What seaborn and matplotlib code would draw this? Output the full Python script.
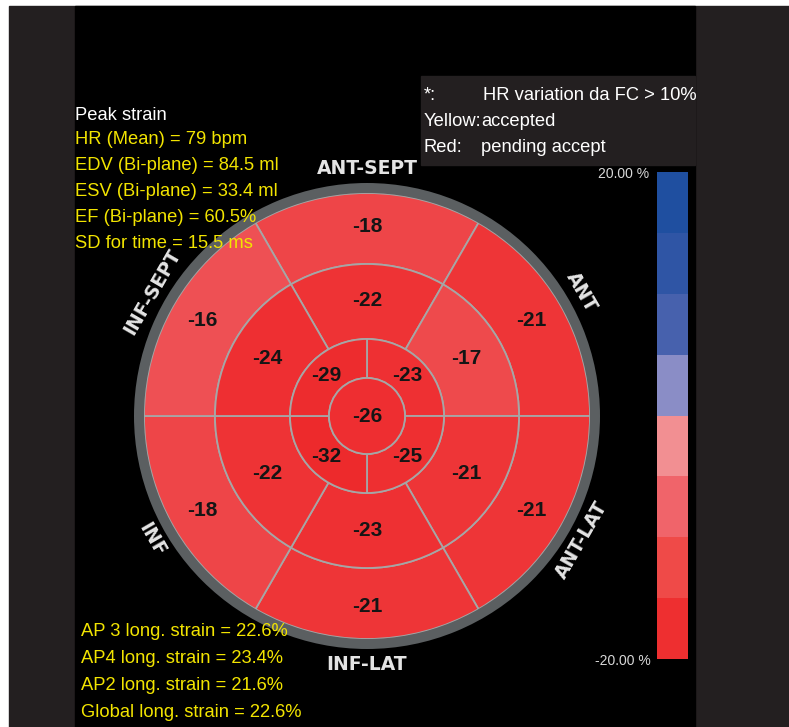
import numpy as np
import matplotlib
matplotlib.use("Agg")
import matplotlib.pyplot as plt
from matplotlib.patches import Wedge, Circle, Rectangle
from matplotlib.colors import ListedColormap, LinearSegmentedColormap
import seaborn as sns

# ---------------- data ----------------
basal_labels = ["ANT-SEPT", "ANT", "ANT-LAT", "INF-LAT", "INF", "INF-SEPT"]
basal_values = [-18, -21, -21, -21, -18, -16]
mid_values = [-22, -17, -21, -23, -22, -24]
apical_values = [-23, -25, -32, -29]     # upper-right, lower-right, lower-left, upper-left
apex_value = -26

header_title = "Peak strain"
header_lines = ["HR (Mean) = 79 bpm", "EDV (Bi-plane) = 84.5 ml",
                "ESV (Bi-plane) = 33.4 ml", "EF (Bi-plane) = 60.5%",
                "SD for time = 15.5 ms"]
footer_lines = ["AP 3 long. strain = 22.6%", "AP4 long. strain = 23.4%",
                "AP2 long. strain = 21.6%", "Global long. strain = 22.6%"]
legend_keys = ["*:", "Yellow:", "Red:"]
legend_texts = ["HR variation da FC > 10%", "accepted", "pending accept"]
scale_colors = ["#1f4fa0", "#2f55a5", "#4761ad", "#8a8dc6",
                "#f28f92", "#f0646a", "#ef4a48", "#ee2f30"]
scale_min, scale_max = -20, 20
scale_labels = ["20.00 %", "-20.00 %"]

# ---------------- styling ----------------
sns.set_theme(style="white")
plt.rcParams["font.family"] = ["Liberation Sans", "DejaVu Sans"]
NARROW = ["DejaVu Sans Condensed", "Liberation Sans"]

W, H = 789, 727
fig = plt.figure(figsize=(W / 100, H / 100), dpi=100, facecolor="white")
ax = fig.add_axes([0, 0, 1, 1])
ax.set_xlim(0, W)
ax.set_ylim(0, H)
ax.set_aspect("auto")
ax.axis("off")


def fy(y):
    return H - y


YELLOW = "#f2e400"
DARK = "#231f20"

# backgrounds
ax.add_patch(Rectangle((9, 0), W - 9, fy(6), color=DARK, zorder=0))
ax.add_patch(Rectangle((75, 0), 620, fy(6), color="black", zorder=1))
ax.add_patch(Rectangle((421, fy(165)), 274, 89, color=DARK, zorder=2))

# ---------------- bullseye ----------------
cx, cy = 367, fy(416)
r_apex, r_apical, r_mid, r_basal, r_ring = 38, 77, 152, 223, 233

vlo, vhi = -32, -16
seg_cmap = LinearSegmentedColormap.from_list(
    "seg", [(0.0, "#ed2a2c"), ((-23 - vlo) / (vhi - vlo), "#ee3033"),
            ((-21 - vlo) / (vhi - vlo), "#ee3537"), ((-18 - vlo) / (vhi - vlo), "#ee4548"),
            ((-17 - vlo) / (vhi - vlo), "#ee4a4c"), (1.0, "#ee5054")])


def seg_color(v):
    return seg_cmap(np.clip((v - vlo) / (vhi - vlo), 0, 1))


LINE = "#a6a6a6"
NUM = dict(fontsize=15, fontweight="bold", color="#151515", family=NARROW, zorder=6,
           ha="center", va="center")
six_centers = [90, 30, -30, -90, -150, 150]
four_centers = [45, -45, -135, 135]

for c, v in zip(six_centers, basal_values):
    ax.add_patch(Wedge((cx, cy), r_basal, c - 30, c + 30, width=r_basal - r_mid,
                       facecolor=seg_color(v), edgecolor=LINE, lw=1.3, zorder=3))
    a = np.deg2rad(c)
    ax.text(cx + 190 * np.cos(a), cy + 190 * np.sin(a), str(v), **NUM)

for c, v in zip(six_centers, mid_values):
    ax.add_patch(Wedge((cx, cy), r_mid, c - 30, c + 30, width=r_mid - r_apical,
                       facecolor=seg_color(v), edgecolor=LINE, lw=1.3, zorder=3))
    a = np.deg2rad(c)
    ax.text(cx + 115 * np.cos(a), cy + 115 * np.sin(a), str(v), **NUM)

for c, v in zip(four_centers, apical_values):
    ax.add_patch(Wedge((cx, cy), r_apical, c - 45, c + 45, width=r_apical - r_apex,
                       facecolor=seg_color(v), edgecolor=LINE, lw=1.3, zorder=3))
    a = np.deg2rad(c)
    ax.text(cx + 57 * np.cos(a), cy + 57 * np.sin(a), str(v), **NUM)

ax.add_patch(Circle((cx, cy), r_apex, facecolor=seg_color(apex_value), edgecolor=LINE,
                    lw=1.3, zorder=3))
ax.text(cx, cy, str(apex_value), **NUM)

# outer gray ring
ax.add_patch(Wedge((cx, cy), r_ring, 0, 360, width=r_ring - r_basal,
                   facecolor="#5b5f61", edgecolor="none", zorder=4))

# segment names around the ring
for c, name in zip(six_centers, basal_labels):
    a = np.deg2rad(c)
    rot = c - 90 if c > 0 else c + 90
    ax.text(cx + 248 * np.cos(a), cy + 248 * np.sin(a), name, ha="center", va="center",
            rotation=rot, rotation_mode="anchor", fontsize=13.5, fontweight="bold",
            color="#e4e4e4", family=["DejaVu Sans"], zorder=5)

# ---------------- texts ----------------
ax.text(75, fy(115), header_title, color="white", fontsize=13.2, va="center", ha="left", zorder=7)
for i, t in enumerate(header_lines):
    ax.text(75, fy(140 + 25.8 * i), t, color=YELLOW, fontsize=13.2, va="center", ha="left", zorder=7)

for i, t in enumerate(footer_lines):
    ax.text(81, fy(632 + 26.7 * i), t, color=YELLOW, fontsize=13.2, va="center", ha="left", zorder=7)

for i, (k, t) in enumerate(zip(legend_keys, legend_texts)):
    yy = fy(95 + 26.3 * i)
    ax.text(424, yy, k, color="white", fontsize=13.2, va="center", ha="left", zorder=7)
    ax.text(481 if i else 483, yy, t, color="white", fontsize=13.2, va="center", ha="left", zorder=7)

# ---------------- colour scale (seaborn heatmap) ----------------
n_bands = len(scale_colors)
step = (scale_max - scale_min) / n_bands
band_mid = np.linspace(scale_max - step / 2, scale_min + step / 2, n_bands).reshape(-1, 1)
cax = fig.add_axes([657 / W, (H - 659) / H, 31 / W, 487 / H])
sns.heatmap(band_mid, cmap=ListedColormap(scale_colors[::-1]), vmin=scale_min, vmax=scale_max,
            cbar=False, ax=cax, xticklabels=False, yticklabels=False, linewidths=0)
cax.set_xticks([])
cax.set_yticks([])

ax.text(649, fy(174), scale_labels[0], color="#d8d8d8", fontsize=10, ha="right", va="center",
        family=NARROW, zorder=7)
ax.text(651, fy(661), scale_labels[1], color="#d8d8d8", fontsize=10, ha="right", va="center",
        family=NARROW, zorder=7)

fig.savefig("out.png", dpi=100, facecolor="white")
